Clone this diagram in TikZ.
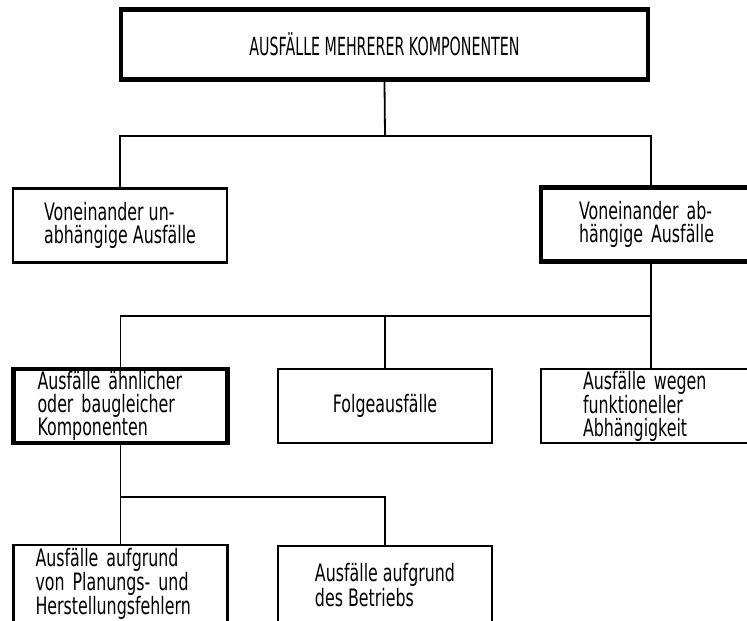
\documentclass[tikz,border=0pt]{standalone}
\usepackage{fontspec}
\setmainfont{DejaVu Sans}[FakeStretch=0.66]
\newfontfamily\titlefont{DejaVu Sans}[FakeStretch=0.57]
\usetikzlibrary{positioning}

\begin{document}
\begin{tikzpicture}[x=1pt,y=-1pt,
		box/.style={draw,line width=2.2pt,minimum width=214pt,minimum height=74pt,
			inner xsep=4pt,inner ysep=0pt,align=left,
			font=\fontsize{24}{23}\selectfont},
		thickbox/.style={box,line width=4.2pt},
		lowbox/.style={box,minimum height=78pt,font=\fontsize{24}{21.5}\selectfont},
		link/.style={line width=1.8pt}]
		\useasboundingbox (0,0) rectangle (747,621);
		\clip (0,0) rectangle (747,621);

		\node[thickbox,minimum width=527pt,minimum height=70pt,
			font=\titlefont\fontsize{25}{26}\selectfont] (top) at (384.5,44.5) {AUSFÄLLE MEHRERER KOMPONENTEN};

		\node[box] (indep) at (120,225.5) {Voneinander un-\\abhängige Ausfälle};
		\node[thickbox,minimum width=220pt,text width=144pt] (dep) at (651,224.5) {Voneinander ab-\\hängige Ausfälle};

		\node[thickbox,text width=166pt] (similar) at (120.5,406) {Ausfälle ähnlicher\\oder baugleicher\\Komponenten};
		\node[box] (conseq) at (385,406) {Folgeausfälle};
		\node[box,minimum width=220pt,text width=136pt] (funct) at (651,406) {Ausfälle wegen\\funktioneller\\Abhängigkeit};

		\node[lowbox,text width=170pt] (design) at (120.5,584) {Ausfälle aufgrund\\von Planungs- und\\Herstellungsfehlern};
		\node[lowbox] (oper) at (385,585) {Ausfälle aufgrund\\des Betriebs};

		\coordinate (j1) at (385,136);
		\coordinate (j2) at (651,316);
		\coordinate (j3) at (120.5,497);

		\draw[link] (top.south) -- (j1);
		\draw[link] (indep.north) |- (j1) -| (dep.north);
		\draw[link] (dep.south) -- (funct.north);
		\draw[link] (similar.north) |- (j2);
		\draw[link] (conseq.north) -- (conseq.north |- j2);
		\draw[link] (similar.south) -- (design.north);
		\draw[link] (j3) -| (oper.north);
	\end{tikzpicture}
\end{document}
